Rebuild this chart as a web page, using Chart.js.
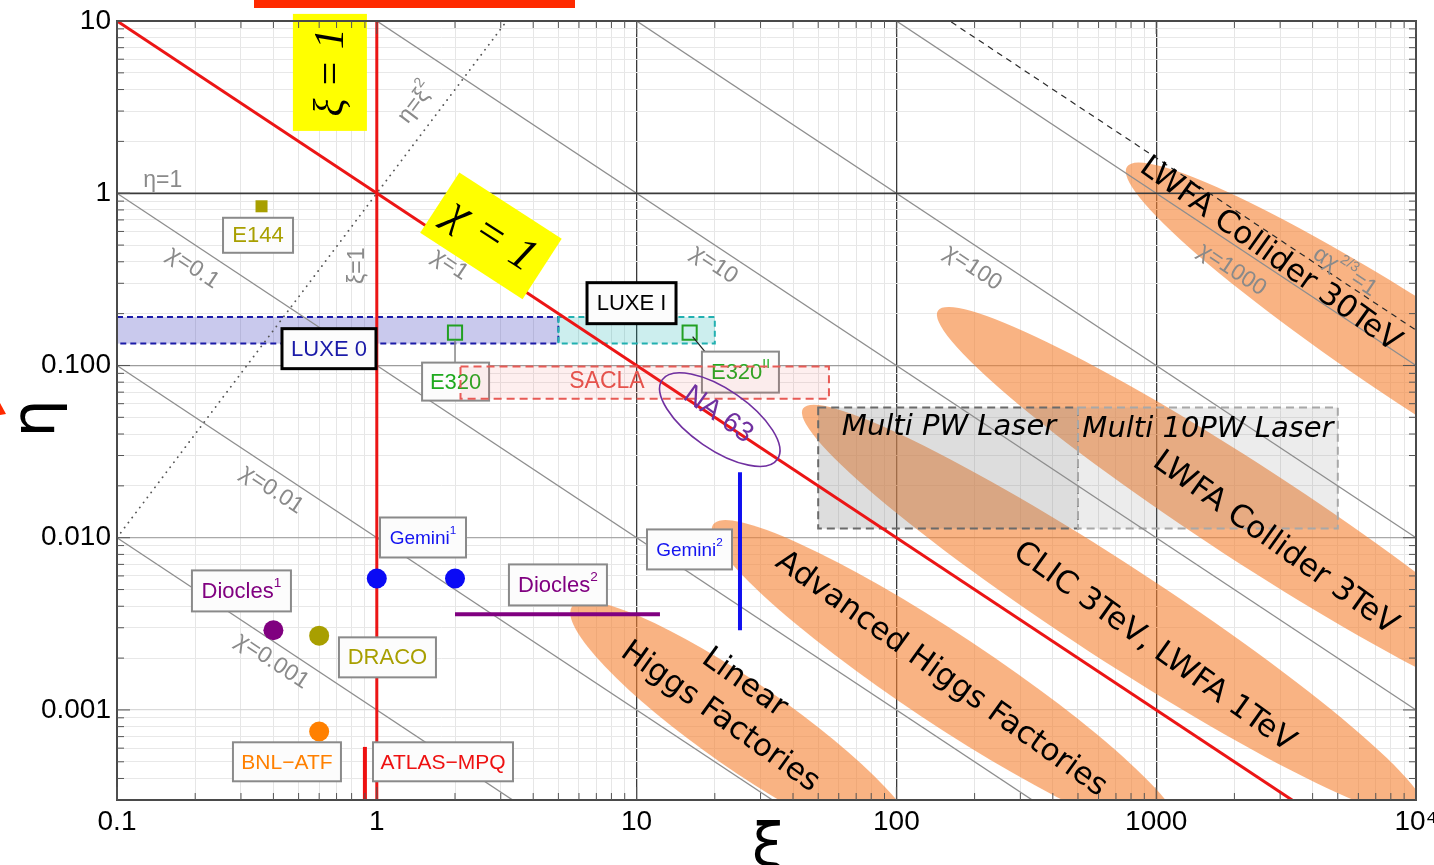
<!DOCTYPE html>
<html>
<head>
<meta charset="utf-8">
<title>Strong-field QED parameter space (ξ, η)</title>
<script src="https://cdn.jsdelivr.net/npm/chart.js@4.4.1/dist/chart.umd.min.js"></script>
<style>
  html, body { margin: 0; padding: 0; background: #ffffff; }
  #box { position: relative; width: 1434px; height: 865px; }
  canvas { display: block; }
</style>
</head>
<body>
<div id="box"><canvas id="plot" width="1434" height="865"></canvas></div>
<script>
// ---------------- axes ----------------
const xiRange = [0.1, 1e4];
const etaRange = [3.03e-4, 10];
const xiTicks = [0.1, 1, 10, 100, 1000, 1e4];
const xiTickLabels = ['0.1', '1', '10', '100', '1000', '10⁴'];
const etaTicks = [0.001, 0.01, 0.1, 1, 10];
const etaTickLabels = ['0.001', '0.010', '0.100', '1', '10'];

// ---------------- reference curves ----------------
const chiIsolines = [0.001, 0.01, 0.1, 10, 100, 1000];   // χ = ξ·η
const chiUnity = 1;
const xiUnity = 1;
const etaUnity = 1;
const alphaFS = 1 / 137.036;                             // αχ^{2/3} = 1

// ---------------- experiments ----------------
const e144Pt = [[0.36, 0.84]];
const e320Pts = [[2, 0.155], [16, 0.155]];
const gemini1Pts = [[1, 0.0058], [2, 0.0058]];
const diocles1Pt = [[0.4, 0.0029]];
const dracoPt = [[0.6, 0.0027]];
const bnlAtfPt = [[0.6, 0.00075]];
const gemini2Seg = [[25, 0.0029], [25, 0.024]];
const diocles2Seg = [[2, 0.0036], [12.3, 0.0036]];
const atlasMpqSeg = [[0.9, 3.03e-4], [0.9, 0.00061]];

// ---------------- parameter regions [ξmin, ξmax, ηmin, ηmax] ----------------
const luxe0Box = [0.1, 5, 0.134, 0.191];
const luxe1Box = [5, 20, 0.134, 0.191];
const saclaBox = [2.1, 55, 0.064, 0.0985];
const multiPWBox = [50, 500, 0.0113, 0.057];
const multi10PWBox = [500, 5000, 0.0113, 0.057];
const na63Centre = [20.9, 0.0485];

// ---------------- collider regions: ends of the long axis [ξ, η] ----------------
const linearHiggsAxis = [[5.64, 0.00399], [121, 1.6e-4]];
const advancedHiggsAxis = [[19.7, 0.01194], [1235, 1.9e-4]];
const clicAxis = [[43.7, 0.0562], [10830, 2.48e-4]];
const lwfa3Axis = [[144.5, 0.208], [35800, 9.2e-4]];
const lwfa30Axis = [[772, 1.423], [191000, 0.00629]];

// ---------------- helpers ----------------
const SANS = '"Liberation Sans", Arial, sans-serif';
const VERD = '"DejaVu Sans", Verdana, sans-serif';
const SERIF = '"Liberation Serif", "DejaVu Serif", serif';
const deg = Math.PI / 180;

const toPts = arr => arr.map(([x, y]) => ({ x, y }));
const isDecade = v => Math.abs(Math.log10(v) - Math.round(Math.log10(v))) < 1e-6;

function gridValues(lo, hi) {
  const out = [];
  for (let d = Math.floor(Math.log10(lo)); d <= Math.ceil(Math.log10(hi)); d++) {
    for (let m = 1; m <= 9; m++) {
      const v = Number((m * Math.pow(10, d)).toPrecision(8));
      if (v >= lo * 0.9999 && v <= hi * 1.0001) out.push(v);
    }
  }
  return out;
}
const xiGrid = gridValues(xiRange[0], xiRange[1]);
const etaGrid = gridValues(etaRange[0], etaRange[1]);

function tickText(v, values, labels) {
  const i = values.findIndex(t => Math.abs(Math.log10(t) - Math.log10(v)) < 1e-6);
  return i >= 0 ? labels[i] : '';
}

function xGridColor(v) {
  if (v == null) return 'rgba(0,0,0,0)';
  if (!isDecade(v)) return '#e6e6e6';
  const e = Math.round(Math.log10(v));
  if (e >= 0 && e <= 3) return '#3a3a3a';
  return 'rgba(0,0,0,0)';
}
function yGridColor(v) {
  if (v == null) return 'rgba(0,0,0,0)';
  if (!isDecade(v)) return '#e8e8e8';
  const e = Math.round(Math.log10(v));
  return ({ 0: '#3a3a3a', '-1': '#9c9c9c', '-2': '#a9a9a9', '-3': '#d9d9d9' })[e] || 'rgba(0,0,0,0)';
}

function lineSet(data, color, width, dash, order, cap) {
  return {
    data: toPts(data), showLine: true, borderColor: color, borderWidth: width,
    borderDash: dash || [], borderCapStyle: cap || 'butt', pointRadius: 0, pointHoverRadius: 0,
    fill: false, order, clip: 0
  };
}
function markerSet(data, style, radius, fillColor, edgeColor, edgeWidth, order) {
  return {
    data: toPts(data), showLine: false, pointStyle: style, pointRadius: radius,
    pointHoverRadius: radius, backgroundColor: fillColor, borderColor: edgeColor,
    borderWidth: edgeWidth, order
  };
}

// ---------------- datasets ----------------
const chiRad = Math.pow(alphaFS, -1.5);
const datasets = [
  ...chiIsolines.map(c => lineSet([[xiRange[0], c / xiRange[0]], [xiRange[1], c / xiRange[1]]], '#8e8e8e', 1.3, [], 20)),
  lineSet([[xiRange[0], etaUnity], [xiRange[1], etaUnity]], '#3a3a3a', 1.4, [], 19),
  lineSet([[xiRange[0], xiRange[0] * xiRange[0]], [10, 100]], '#555555', 1.8, [0.1, 6.2], 18, 'round'),
  lineSet([[xiRange[0], chiRad / xiRange[0]], [xiRange[1], chiRad / xiRange[1]]], '#2a2a2a', 1.2, [6, 5], 18),
  lineSet([[xiRange[0], chiUnity / xiRange[0]], [xiRange[1], chiUnity / xiRange[1]]], '#ec1515', 3, [], 6),
  lineSet([[xiUnity, etaRange[0]], [xiUnity, etaRange[1]]], '#ec1515', 3, [], 6),
  lineSet(gemini2Seg, '#1010f0', 4, [], 4),
  lineSet(diocles2Seg, '#800080', 4, [], 4),
  lineSet(atlasMpqSeg, '#ee1111', 4, [], 4),
  markerSet(e144Pt, 'rect', 8.5, '#a89f00', '#a89f00', 0, 2),
  markerSet(e320Pts, 'rect', 10, 'rgba(0,0,0,0)', '#22a022', 2, 2),
  markerSet(gemini1Pts, 'circle', 10, '#0a0af5', '#0a0af5', 0, 2),
  markerSet(diocles1Pt, 'circle', 10, '#800080', '#800080', 0, 2),
  markerSet(dracoPt, 'circle', 10, '#a89f00', '#a89f00', 0, 2),
  markerSet(bnlAtfPt, 'circle', 10, '#ff8000', '#ff8000', 0, 2)
];

// ---------------- drawing helpers ----------------
function P(chart, p) {
  return [chart.scales.x.getPixelForValue(p[0]), chart.scales.y.getPixelForValue(p[1])];
}
function chiAngle(chart) {
  const [x0, y0] = P(chart, [1, 1]);
  const [x1, y1] = P(chart, [10, 0.1]);
  return Math.atan2(y1 - y0, x1 - x0);
}
function richText(ctx, parts, cx, cy, size, family, color, angle, style) {
  const supScale = 0.62;
  const st = style || 'normal';
  let w = 0;
  const widths = parts.map(([t, s]) => {
    ctx.font = `${st} ${s ? size * supScale : size}px ${family}`;
    const m = ctx.measureText(t).width;
    w += m;
    return m;
  });
  ctx.save();
  ctx.translate(cx, cy);
  ctx.rotate(angle || 0);
  ctx.fillStyle = color;
  ctx.textBaseline = 'middle';
  ctx.textAlign = 'left';
  let x = -w / 2;
  parts.forEach(([t, s], i) => {
    ctx.font = `${st} ${s ? size * supScale : size}px ${family}`;
    ctx.fillText(t, x, s ? -size * 0.4 : 0);
    x += widths[i];
  });
  ctx.restore();
}
function dataBox(ctx, chart, box, fill, stroke, dash, lw) {
  const [x0, y0] = P(chart, [box[0], box[3]]);
  const [x1, y1] = P(chart, [box[1], box[2]]);
  ctx.fillStyle = fill;
  ctx.fillRect(x0, y0, x1 - x0, y1 - y0);
  ctx.setLineDash(dash);
  ctx.lineWidth = lw;
  ctx.strokeStyle = stroke;
  ctx.strokeRect(x0, y0, x1 - x0, y1 - y0);
  ctx.setLineDash([]);
}
function axisEllipse(ctx, chart, axis, ratio) {
  const [x1, y1] = P(chart, axis[0]);
  const [x2, y2] = P(chart, axis[1]);
  const a = Math.hypot(x2 - x1, y2 - y1) / 2;
  ctx.beginPath();
  ctx.ellipse((x1 + x2) / 2, (y1 + y2) / 2, a, a * ratio, Math.atan2(y2 - y1, x2 - x1), 0, 2 * Math.PI);
  ctx.fill();
}
function tagBox(ctx, chart, t) {
  const [cx, cy] = P(chart, t.at);
  ctx.fillStyle = '#fcfcfc';
  ctx.fillRect(cx - t.w / 2, cy - t.h / 2, t.w, t.h);
  ctx.lineWidth = t.lw || 2;
  ctx.strokeStyle = t.edge || '#8a8a8a';
  ctx.strokeRect(cx - t.w / 2, cy - t.h / 2, t.w, t.h);
  richText(ctx, t.parts, cx, cy + 1, t.size, SANS, t.color, 0);
}

// label boxes (centre in data coordinates, size in px)
const e320Tags = [
  { parts: [['E320']], at: [2.01, 0.0806], w: 67, h: 38, color: '#1faa1f', size: 22 },
  { parts: [['E320'], ['II', true]], at: [25.1, 0.0915], w: 77, h: 41, color: '#1faa1f', size: 22 }
];
const tags = [
  { parts: [['E144']], at: [0.349, 0.570], w: 70, h: 35, color: '#a89f00', size: 22 },
  { parts: [['Gemini'], ['1', true]], at: [1.506, 0.01003], w: 86, h: 40, color: '#1414f0', size: 19 },
  { parts: [['Gemini'], ['2', true]], at: [15.98, 0.00855], w: 85, h: 40, color: '#1414f0', size: 19 },
  { parts: [['Diocles'], ['1', true]], at: [0.3013, 0.00491], w: 99, h: 41, color: '#800080', size: 22 },
  { parts: [['Diocles'], ['2', true]], at: [4.98, 0.00532], w: 98, h: 41, color: '#800080', size: 22 },
  { parts: [['DRACO']], at: [1.099, 0.00202], w: 97, h: 40, color: '#a89f00', size: 22 },
  { parts: [['BNL−ATF']], at: [0.451, 5.0e-4], w: 108, h: 39, color: '#ff8000', size: 21 },
  { parts: [['ATLAS−MPQ']], at: [1.798, 5.0e-4], w: 140, h: 39, color: '#ee1111', size: 21 },
  { parts: [['LUXE 0']], at: [0.6546, 0.1252], w: 94, h: 40, color: '#1a1aa8', size: 22, edge: '#000', lw: 3 },
  { parts: [['LUXE I']], at: [9.56, 0.23], w: 89, h: 41, color: '#000', size: 22, edge: '#000', lw: 3 }
];
const chiLabelAt = [[0.395, 0.00192], [0.395, 0.019], [0.196, 0.369], [19.9, 0.385], [197, 0.369], [1957, 0.36]];
const regionTitles = [
  { lines: ['Linear', 'Higgs Factories'], at: [23.3, 0.001138] },
  { lines: ['Advanced Higgs Factories'], at: [148.5, 0.00161] },
  { lines: ['CLIC 3TeV, LWFA 1TeV'], at: [980, 0.00231] },
  { lines: ['LWFA Collider 3TeV'], at: [2866, 0.00926] },
  { lines: ['LWFA Collider 30TeV'], at: [2742, 0.4396] }
];

// ---------------- plugins ----------------
const regionLayer = {
  id: 'regionLayer',
  beforeDatasetsDraw(chart) {
    const { ctx, chartArea: a } = chart;
    ctx.save();
    ctx.beginPath();
    ctx.rect(a.left, a.top, a.right - a.left, a.bottom - a.top);
    ctx.clip();
    ctx.fillStyle = 'rgba(245,128,48,0.6)';
    [[linearHiggsAxis, 0.205], [advancedHiggsAxis, 0.16], [clicAxis, 0.127], [lwfa3Axis, 0.127], [lwfa30Axis, 0.135]]
      .forEach(([axis, r]) => axisEllipse(ctx, chart, axis, r));
    dataBox(ctx, chart, multiPWBox, 'rgba(128,128,128,0.27)', '#6a6a6a', [8, 5], 2);
    dataBox(ctx, chart, multi10PWBox, 'rgba(128,128,128,0.15)', '#a8a8a8', [8, 5], 2);
    dataBox(ctx, chart, luxe0Box, 'rgba(60,60,190,0.28)', '#1b1ba8', [6, 4], 2);
    dataBox(ctx, chart, luxe1Box, 'rgba(0,170,170,0.2)', '#22b0b0', [6, 4], 2);
    ctx.restore();
  }
};

const annotationLayer = {
  id: 'annotationLayer',
  afterDatasetsDraw(chart) {
    const { ctx, chartArea: a } = chart;
    const ang = chiAngle(chart);
    ctx.save();

    // leader lines to the E320 tags
    const [sx1, sy1] = P(chart, e320Pts[0]);
    const [bx1, by1] = P(chart, e320Tags[0].at);
    ctx.strokeStyle = '#8a8a8a'; ctx.lineWidth = 1.5;
    ctx.beginPath(); ctx.moveTo(sx1, sy1 + 8); ctx.lineTo(sx1, by1 - e320Tags[0].h / 2); ctx.stroke();
    const [sx2, sy2] = P(chart, e320Pts[1]);
    const [bx2, by2] = P(chart, e320Tags[1].at);
    ctx.strokeStyle = '#222'; ctx.lineWidth = 1.3;
    ctx.beginPath(); ctx.moveTo(sx2 + 3, sy2 + 4); ctx.lineTo(bx2 - e320Tags[1].w / 2 + 3, by2 - e320Tags[1].h / 2); ctx.stroke();
    e320Tags.forEach(t => tagBox(ctx, chart, t));

    // SACLA region
    dataBox(ctx, chart, saclaBox, 'rgba(240,80,80,0.09)', '#e85a55', [8, 5], 2);
    const [scx, scy] = P(chart, [7.69, 0.0806]);
    richText(ctx, [['SACLA']], scx, scy, 23, SANS, '#e5524c', 0);

    tags.forEach(t => tagBox(ctx, chart, t));

    // NA63
    const [nx, ny] = P(chart, na63Centre);
    ctx.strokeStyle = '#7030a0'; ctx.lineWidth = 1.6;
    ctx.beginPath(); ctx.ellipse(nx, ny, 70, 30, ang + 1 * deg, 0, 2 * Math.PI); ctx.stroke();
    const [ntx, nty] = P(chart, [20.6, 0.0519]);
    richText(ctx, [['NA 63']], ntx, nty, 28, SANS, '#7030a0', ang + 2 * deg);

    // curve labels
    const grey = '#8a8a8a';
    chiIsolines.forEach((c, i) => {
      const [lx, ly] = P(chart, chiLabelAt[i]);
      richText(ctx, [['χ=' + c]], lx, ly, 23, SANS, grey, ang);
    });
    let q = P(chart, [1.913, 0.385]); richText(ctx, [['χ=' + chiUnity]], q[0], q[1], 23, SANS, grey, ang);
    q = P(chart, [5330, 0.35]); richText(ctx, [['αχ'], ['2/3', true], ['=1']], q[0], q[1], 23, SANS, grey, ang);
    q = P(chart, [0.846, 0.379]); richText(ctx, [['ξ=' + xiUnity]], q[0], q[1], 23, SANS, grey, -90 * deg);
    q = P(chart, [0.150, 1.18]); richText(ctx, [['η=' + etaUnity]], q[0], q[1], 23, SANS, grey, 0);
    const [d0x, d0y] = P(chart, [1, 1]); const [d1x, d1y] = P(chart, [2, 4]);
    q = P(chart, [1.416, 3.345]); richText(ctx, [['η=ξ'], ['2', true]], q[0], q[1], 23, SANS, grey, Math.atan2(d1y - d0y, d1x - d0x));

    // laser facility boxes
    q = P(chart, [159.4, 0.0436]); richText(ctx, [['Multi PW Laser']], q[0], q[1], 29, VERD, '#000', 0, 'italic');
    q = P(chart, [1582, 0.0425]); richText(ctx, [['Multi 10PW Laser']], q[0], q[1], 29, VERD, '#000', 0, 'italic');

    // collider titles
    regionTitles.forEach(r => {
      const [cx, cy] = P(chart, r.at);
      const rot = ang + 2 * deg;
      const n = r.lines.length;
      r.lines.forEach((ln, k) => {
        const off = (k - (n - 1) / 2) * 42;
        richText(ctx, [[ln]], cx - Math.sin(rot) * off, cy + Math.cos(rot) * off, 31, VERD, '#000', rot);
      });
    });

    // yellow call-outs
    const [yx, yy] = P(chart, [0.66, 5.03]);
    ctx.fillStyle = '#ffff00';
    ctx.fillRect(yx - 37, yy - 58.5, 74, 117);
    richText(ctx, [['ξ = ' + xiUnity]], yx + 2, yy, 42, SERIF, '#000', -90 * deg, 'italic');
    const [cx1, cy1] = P(chart, [2.75, 0.566]);
    ctx.save();
    ctx.translate(cx1, cy1); ctx.rotate(ang - 0.6 * deg);
    ctx.fillStyle = '#ffff00'; ctx.fillRect(-61, -36, 122, 72);
    ctx.restore();
    richText(ctx, [['χ = ' + chiUnity]], cx1, cy1, 46, SERIF, '#000', ang - 0.6 * deg, 'italic');

    // frame and inward ticks
    ctx.strokeStyle = '#4a4a4a'; ctx.lineWidth = 2;
    ctx.strokeRect(a.left, a.top, a.right - a.left, a.bottom - a.top);
    ctx.strokeStyle = '#555'; ctx.lineWidth = 1;
    ctx.beginPath();
    etaGrid.forEach(v => {
      const y = chart.scales.y.getPixelForValue(v);
      const len = isDecade(v) ? 13 : 7;
      ctx.moveTo(a.left, y); ctx.lineTo(a.left + len, y);
      ctx.moveTo(a.right, y); ctx.lineTo(a.right - len, y);
    });
    xiGrid.forEach(v => {
      const x = chart.scales.x.getPixelForValue(v);
      const len = isDecade(v) ? 13 : 7;
      ctx.moveTo(x, a.bottom); ctx.lineTo(x, a.bottom - len);
      ctx.moveTo(x, a.top); ctx.lineTo(x, a.top + len);
    });
    ctx.stroke();
    ctx.restore();
  },
  afterDraw(chart) {
    const { ctx, chartArea: a } = chart;
    ctx.save();
    // axis titles
    ctx.fillStyle = '#000';
    ctx.textAlign = 'center';
    ctx.textBaseline = 'alphabetic';
    ctx.font = `60px ${VERD}`;
    ctx.fillText('ξ', (a.left + a.right) / 2 + 2, 866);
    ctx.save();
    ctx.translate(54, (a.top + a.bottom) / 2 + 8);
    ctx.rotate(-90 * deg);
    ctx.fillText('η', 0, 0);
    ctx.restore();
    // page decorations around the figure
    ctx.fillStyle = '#ff2a00';
    ctx.fillRect(254, 0, 321, 8);
    ctx.beginPath(); ctx.moveTo(0, 403); ctx.lineTo(6, 414); ctx.lineTo(0, 415); ctx.closePath(); ctx.fill();
    ctx.restore();
  }
};

// ---------------- chart ----------------
new Chart(document.getElementById('plot'), {
  type: 'scatter',
  data: { datasets },
  options: {
    responsive: false,
    animation: false,
    devicePixelRatio: 1,
    events: [],
    layout: { padding: { top: 21, right: 18, left: 0, bottom: 0 } },
    plugins: { legend: { display: false }, tooltip: { enabled: false }, title: { display: false } },
    scales: {
      x: {
        type: 'logarithmic', position: 'bottom', min: xiRange[0], max: xiRange[1],
        afterBuildTicks: s => { s.ticks = xiGrid.map(v => ({ value: v })); },
        afterFit: s => { s.height = 65; s.paddingLeft = 0; s.paddingRight = 0; },
        grid: {
          color: c => xGridColor(c.tick && c.tick.value),
          lineWidth: c => (c.tick && isDecade(c.tick.value) ? 1.3 : 1),
          drawTicks: false
        },
        border: { display: false },
        ticks: {
          autoSkip: false, maxRotation: 0, minRotation: 0, padding: 5, color: '#000',
          font: { family: 'Liberation Sans', size: 28 },
          callback: v => tickText(v, xiTicks, xiTickLabels)
        }
      },
      y: {
        type: 'logarithmic', position: 'left', min: etaRange[0], max: etaRange[1],
        afterBuildTicks: s => { s.ticks = etaGrid.map(v => ({ value: v })); },
        afterFit: s => { s.width = 117; s.paddingTop = 0; s.paddingBottom = 0; },
        grid: {
          color: c => yGridColor(c.tick && c.tick.value),
          lineWidth: c => (c.tick && isDecade(c.tick.value) ? 1.3 : 1),
          drawTicks: false
        },
        border: { display: false },
        ticks: {
          autoSkip: false, padding: 6, color: '#000',
          font: { family: 'Liberation Sans', size: 28 },
          callback: v => tickText(v, etaTicks, etaTickLabels)
        }
      }
    }
  },
  plugins: [regionLayer, annotationLayer]
});
</script>
</body>
</html>
